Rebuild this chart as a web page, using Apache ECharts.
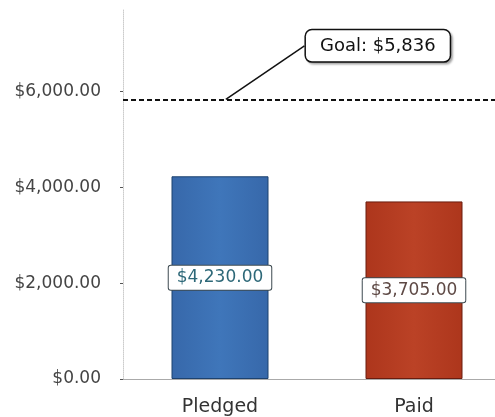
<!DOCTYPE html>
<html>
<head>
<meta charset="utf-8">
<script src="https://cdn.jsdelivr.net/npm/echarts@6/dist/echarts.min.js"></script>
<style>html,body{margin:0;padding:0;background:#fff}#c{width:495px;height:417px}</style>
</head>
<body>
<div id="c"></div>
<script>
var categories = ['Pledged', 'Paid'];
var amounts = [4230, 3705];
var goalValue = 5836;
var goalText = 'Goal: $5,836';
var yTicks = [0, 2000, 4000, 6000];

var barColors = [
  {fill: '#3768aa', light: '#3f76ba', border: '#1d426f', text: '#2d6878'},
  {fill: '#ad361c', light: '#bb4226', border: '#6a1c0e', text: '#5e4945'}
];

function money(v) {
  return '$' + v.toLocaleString('en-US', {minimumFractionDigits: 2, maximumFractionDigits: 2});
}

var chart = echarts.init(document.getElementById('c'), null, {renderer: 'canvas'});
var font = 'DejaVu Sans';

chart.setOption({
  animation: false,
  backgroundColor: '#fff',
  grid: {left: 123, width: 388, top: 10, bottom: 38, outerBoundsMode: 'none', containLabel: false},
  xAxis: [{
    type: 'category',
    data: categories,
    axisLine: {lineStyle: {color: '#aaa', width: 1}},
    axisTick: {alignWithLabel: true, length: 5, lineStyle: {color: '#ccc'}},
    axisLabel: {fontFamily: font, fontSize: 19, color: '#333', margin: 19}
  }, {
    type: 'value', min: 0, max: 1, show: false
  }],
  yAxis: {
    type: 'value',
    min: 0, max: 7700, interval: 2000,
    splitLine: {show: false},
    axisLine: {show: true, lineStyle: {color: '#ccc', type: 'dotted', width: 1}},
    axisTick: {show: true, length: 3, lineStyle: {color: '#555'}},
    axisLabel: {
      fontFamily: font, fontSize: 17, color: '#444', margin: 22,
      showMaxLabel: false,
      formatter: function (v) { return yTicks.indexOf(v) >= 0 ? money(v) : ''; }
    }
  },
  series: [{
    type: 'bar',
    barWidth: '50%',
    data: amounts.map(function (v, i) {
      var c = barColors[i];
      return {
        value: v,
        itemStyle: {
          color: new echarts.graphic.LinearGradient(0, 0, 1, 0, [
            {offset: 0, color: c.fill},
            {offset: 0.5, color: c.light},
            {offset: 1, color: c.fill}
          ]),
          borderColor: c.border, borderWidth: 1
        },
        label: {
          show: true, position: 'inside',
          formatter: function (p) { return money(p.value); },
          fontFamily: font, fontSize: 17, color: c.text,
          backgroundColor: '#fff', borderColor: '#3d4a50', borderWidth: 1,
          borderRadius: 2, padding: [4, 8, 3, 8]
        }
      };
    }),
    markLine: {
      silent: true,
      symbol: 'none',
      label: {show: false},
      lineStyle: {color: '#111', type: [5, 3], width: 2},
      data: [{yAxis: goalValue}]
    }
  }, {
    type: 'scatter',
    xAxisIndex: 1,
    symbolSize: 0,
    silent: true,
    itemStyle: {color: '#000', opacity: 1},
    data: [[0.265, goalValue]],
    label: {
      show: true, position: 'top', distance: 0,
      formatter: goalText,
      fontFamily: font, fontSize: 18, color: '#111', opacity: 1,
      backgroundColor: '#ffffff', borderColor: '#111', borderWidth: 1.5,
      borderRadius: 6, padding: [7, 14, 6, 14],
      shadowColor: 'rgba(0,0,0,0.25)', shadowOffsetX: 2, shadowOffsetY: 2, shadowBlur: 2
    },
    labelLayout: {dx: 152, dy: -38},
    labelLine: {show: true, lineStyle: {color: '#111', width: 1.5, opacity: 1}}
  }]
});
</script>
</body>
</html>
